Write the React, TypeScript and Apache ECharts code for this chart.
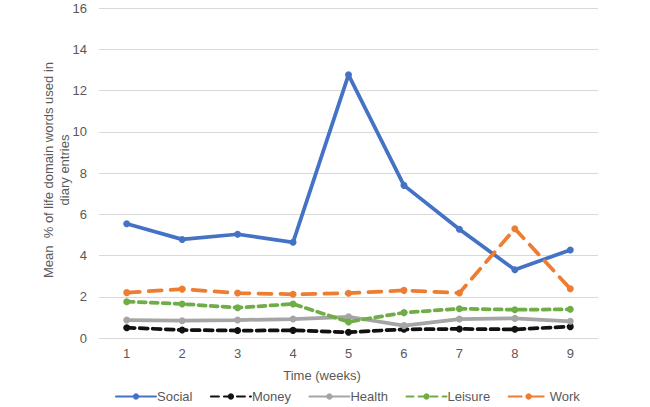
import React, { useEffect, useRef } from "react";
import * as echarts from "echarts";

const weeks = ["1", "2", "3", "4", "5", "6", "7", "8", "9"];
const social = [5.54, 4.78, 5.03, 4.64, 12.76, 7.4, 5.27, 3.31, 4.27];
const money = [0.5, 0.39, 0.36, 0.37, 0.28, 0.42, 0.44, 0.42, 0.55];
const health = [0.87, 0.84, 0.87, 0.92, 1.03, 0.6, 0.92, 0.95, 0.81];
const leisure = [1.76, 1.65, 1.47, 1.65, 0.78, 1.23, 1.42, 1.37, 1.39];
const work = [2.2, 2.37, 2.18, 2.12, 2.17, 2.31, 2.18, 5.3, 2.39];

const FONT = "Liberation Sans, Arial, sans-serif";
const TXT = "#595959";

function mk(name: string, data: number[], color: string, type: any) {
  return {
    name,
    type: "line",
    data,
    symbol: "circle",
    symbolSize: 7,
    showSymbol: true,
    lineStyle: { color, width: 3.75, type, cap: "round" },
    itemStyle: { color, borderWidth: 0 },
  };
}

export default function App() {
  const ref = useRef<HTMLDivElement>(null);
  useEffect(() => {
    const chart = echarts.init(ref.current!, null, { renderer: "svg" });
    chart.setOption({
      animation: false,
      textStyle: { fontFamily: FONT },
      grid: { left: 99, right: 52, top: 8, bottom: 69 },
      graphic: [
        {
          type: "text",
          x: 322,
          y: 375,
          style: {
            text: "Time (weeks)",
            fill: TXT,
            font: "13px Liberation Sans, Arial, sans-serif",
            textAlign: "center",
            textVerticalAlign: "middle",
          },
        },
        {
          type: "text",
          x: 56,
          y: 170,
          rotation: Math.PI / 2,
          style: {
            text: "Mean  % of life domain words used in\ndiary entries",
            fill: TXT,
            font: "13px Liberation Sans, Arial, sans-serif",
            lineHeight: 16,
            textAlign: "center",
            textVerticalAlign: "middle",
          },
        },
      ],
      xAxis: {
        type: "category",
        data: weeks,
        boundaryGap: true,
        axisLine: { lineStyle: { color: "#d9d9d9" } },
        axisTick: { show: false },
        axisLabel: { color: TXT, fontSize: 13, margin: 9, fontFamily: FONT },
      },
      yAxis: {
        type: "value",
        min: 0,
        max: 16,
        interval: 2,
        axisLine: { show: false },
        axisTick: { show: false },
        splitLine: { lineStyle: { color: "#d9d9d9", width: 1 } },
        axisLabel: { color: TXT, fontSize: 13, margin: 12, fontFamily: FONT },
      },
      legend: {
        top: 390,
        left: 115,
        padding: 0,
        itemWidth: 40,
        itemHeight: 8,
        itemGap: 17.5,
        textStyle: { color: TXT, fontSize: 13, fontFamily: FONT, padding: [0, 0, 0, -4] },
        data: ["Social", "Money", "Health", "Leisure", "Work"],
      },
      series: [
        mk("Social", social, "#4472C4", "solid"),
        mk("Money", money, "#111111", [8, 5]),
        mk("Health", health, "#A5A5A5", "solid"),
        mk("Leisure", leisure, "#70AD47", [7, 5]),
        mk("Work", work, "#ED7D31", [13, 9]),
      ],
    });
    return () => chart.dispose();
  }, []);
  return (
    <div
      ref={ref}
      style={{ position: "fixed", left: 0, top: 0, width: 650, height: 407, background: "#fff" }}
    />
  );
}
